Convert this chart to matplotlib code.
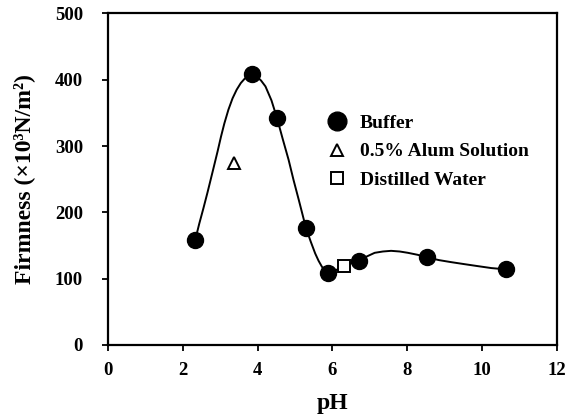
import matplotlib
matplotlib.use("Agg")
import matplotlib.pyplot as plt

buffer_ph = [2.33, 3.86, 4.52, 5.29, 5.89, 6.70, 8.54, 10.65]
buffer_firm = [158, 408, 342, 177, 109, 127, 132, 114]

alum_ph = [3.37]
alum_firm = [274]

water_ph = [6.30]
water_firm = [119]

# hand-drawn smoothing curve
curve_ph = [2.33, 2.44, 2.55, 2.66, 2.80, 2.93, 3.02, 3.11, 3.22, 3.33, 3.44,
            3.55, 3.66, 3.76, 3.86, 3.97, 4.09, 4.21, 4.37, 4.52, 4.67, 4.83,
            4.96, 5.10, 5.20, 5.29, 5.42, 5.54, 5.63, 5.72, 5.80, 5.89, 6.10,
            6.30, 6.50, 6.70, 6.90, 7.13, 7.35, 7.57, 7.80, 8.02, 8.28, 8.54,
            8.85, 9.17, 9.52, 9.88, 10.25, 10.65]
curve_firm = [158, 183, 206, 230, 262, 292, 314, 334, 355, 372, 385,
              395, 402, 406, 408, 405, 399, 390, 369, 342, 311, 279,
              249, 219, 197, 177, 156, 138, 127, 118, 112, 109, 113,
              119, 123, 127, 133, 139, 141, 142, 141, 139, 136, 132,
              128, 125, 122, 119, 116, 114]

xticks = [0, 2, 4, 6, 8, 10, 12]
yticks = [0, 100, 200, 300, 400, 500]

plt.rcParams["font.family"] = ["Liberation Serif", "DejaVu Serif"]
plt.rcParams["font.weight"] = "bold"

fig = plt.figure(figsize=(5.67, 4.17), dpi=100)
ax = fig.add_axes([0.1905, 0.1727, 0.7915, 0.795])

ax.plot(curve_ph, curve_firm, color="black", linewidth=1.4, zorder=2)
ax.plot(buffer_ph, buffer_firm, "o", color="black", markersize=11.5,
        linestyle="none", label="Buffer", zorder=3)
ax.plot(alum_ph, alum_firm, "^", markerfacecolor="white",
        markeredgecolor="black", markeredgewidth=1.4, markersize=8.5,
        linestyle="none", label="0.5% Alum Solution", zorder=3)
ax.plot(water_ph, water_firm, "s", markerfacecolor="white",
        markeredgecolor="black", markeredgewidth=1.4, markersize=8.5,
        linestyle="none", label="Distilled Water", zorder=4)

ax.set_xlim(0, 12)
ax.set_ylim(0, 500)
ax.set_xticks(xticks)
ax.set_yticks(yticks)
ax.tick_params(direction="out", length=4, width=1.3)
ax.tick_params(axis="x", labelsize=13.5, pad=8)
ax.tick_params(axis="y", labelsize=13.5, pad=14)
for lab in ax.get_xticklabels() + ax.get_yticklabels():
    lab.set_fontweight("bold")
for s in ax.spines.values():
    s.set_linewidth(1.6)

ax.set_xlabel("pH", fontsize=17, fontweight="bold", labelpad=10)
ax.set_ylabel("Firmness (\u00d710\u00b3N/m\u00b2)", fontsize=17,
              fontweight="bold", labelpad=14)

leg = ax.legend(loc="upper left", bbox_to_anchor=(0.485, 0.695),
                frameon=False, prop={"size": 14, "weight": "bold"},
                handletextpad=0.55, labelspacing=0.55, borderaxespad=0,
                borderpad=0, handlelength=1.2)
leg.legend_handles[0].set_markersize(13.5)
leg.legend_handles[1].set_markersize(9)
leg.legend_handles[2].set_markersize(9)

plt.savefig("out.png", dpi=100)
plt.close(fig)
